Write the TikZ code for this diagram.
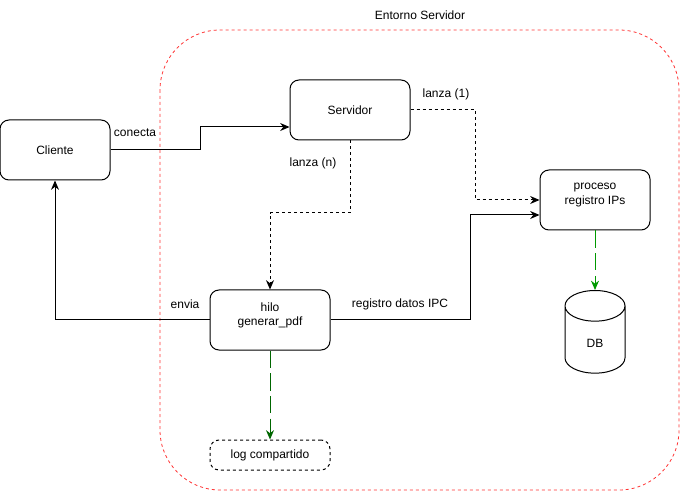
\documentclass[tikz,border=0pt]{standalone}
\usepackage{fontspec}
\setmainfont{Liberation Sans}
\usetikzlibrary{positioning,calc,arrows.meta,shapes.geometric}

\definecolor{linea}{RGB}{0,0,0}
\definecolor{rojo}{RGB}{255,51,51}
\definecolor{verde}{RGB}{0,153,0}
\definecolor{verdeosc}{RGB}{0,102,0}

\begin{document}
\begin{tikzpicture}[x=0.75pt,y=-0.75pt,
  font=\fontsize{9}{11}\selectfont,
  caja/.style={draw, line width=0.75pt, rounded corners=6.75pt,
    minimum width=90pt, minimum height=45pt, align=center},
  etiq/.style={inner sep=0pt},
  flecha/.style={line width=0.75pt, -{Stealth[length=7pt,width=6pt]}},
  punteada/.style={flecha, dash pattern=on 2.25pt off 2.25pt},
  verdes/.style={flecha, verde, dash pattern=on 13pt off 4pt}
]
\useasboundingbox (0,0) rectangle (681,491);

%---------------------------------------
% Entorno
%---------------------------------------
\draw[rojo, line width=0.6pt, dash pattern=on 2.25pt off 2.25pt, rounded corners=45pt]
  (160,30) rectangle (679,490);
\node[etiq] (entorno) at (420,15) {Entorno Servidor};

%---------------------------------------
% Nodos
%---------------------------------------
\node[caja, minimum width=82.5pt] (cli) at (55,150) {Cliente};
\node[caja] (srv) at (350,110) {Servidor};
\node[caja, minimum width=82.5pt, text depth=9pt] (proc) at (595,200) {proceso\\registro IPs};
\node[caja, text depth=9pt] (hilo) at (270,320) {hilo\\generar\_pdf};
\node[caja, dashed, dash pattern=on 2.25pt off 2.25pt, minimum height=22.5pt] (log) at (270,455) {log compartido};
\node[draw, line width=0.75pt, cylinder, shape border rotate=90, aspect=1.2,
  minimum width=45pt, minimum height=62pt, anchor=north] (db) at (595,290) {DB};

%---------------------------------------
% Conectores
%---------------------------------------
\coordinate (srvin) at ($(srv.west)+(0,17)$);
\draw[flecha] (cli.east) -- (200,150) |- (srvin);
\node[etiq] (conecta) at (135,133) {conecta};

\draw[punteada] (srv.south) -- (350,213) -| (hilo.north);
\node[etiq] (lanzan) at (313,163) {lanza (n)};

\coordinate (procin) at ($(proc.west)+(0,0)$);
\draw[punteada] (srv.east) -- (475,110) |- (procin);
\node[etiq] (lanza1) at (446,94) {lanza (1)};

\coordinate (procipc) at ($(proc.west)+(0,15)$);
\draw[flecha] (hilo.east) -- (470,320) |- (procipc);
\node[etiq] (ipc) at (400,304) {registro datos IPC};

\draw[flecha] (hilo.west) -| (cli.south);
\node[etiq] (envia) at (185,304) {envia};

\draw[verdes] (proc.south) -- (db.north);
\draw[verdes, verdeosc] (hilo.south) -- (log.north);

\end{tikzpicture}
\end{document}
